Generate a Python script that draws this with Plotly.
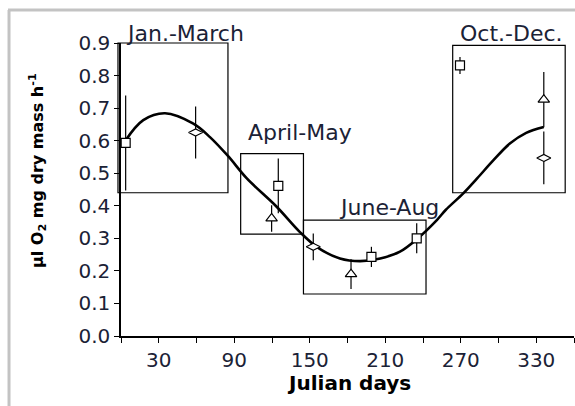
import plotly.graph_objects as go

# ---- data ----
curve_days = [3.5, 17.7, 35, 57.5, 70.7, 85, 100, 123.7, 142, 155.5, 174, 190, 206,
              221.7, 235, 251, 258, 272, 283, 296, 309, 322, 336]
curve_vals = [0.600, 0.663, 0.684, 0.652, 0.611, 0.553, 0.484, 0.397, 0.320, 0.274,
              0.238, 0.230, 0.238, 0.259, 0.297, 0.356, 0.387, 0.438, 0.484, 0.540,
              0.591, 0.624, 0.642]

sq_x = [3.7, 125, 199, 235, 269.4]
sq_y = [0.593, 0.461, 0.243, 0.300, 0.831]
sq_err = [0.146, 0.084, 0.031, 0.046, 0.026]

tri_x = [119.7, 182.8, 336]
tri_y = [0.361, 0.190, 0.726]
tri_err = [0.041, 0.046, 0.085]

dia_x = [59.3, 152.8, 336]
dia_y = [0.625, 0.274, 0.547]
dia_err = [0.080, 0.041, 0.081]

season_names = ["Jan.-March", "April-May", "June-Aug", "Oct.-Dec."]
season_x0 = [-2.4, 95.1, 145, 263.6]
season_x1 = [85, 145, 242.4, 353]
season_y0 = [0.44, 0.313, 0.129, 0.44]
season_y1 = [0.90, 0.560, 0.356, 0.893]
label_x = [50.9, 142, 212.6, 310]
label_y = [0.929, 0.626, 0.396, 0.929]

X_RANGE = [0, 360]
Y_RANGE = [0, 0.9]

x_tickvals = [30, 90, 150, 210, 270, 330]
x_ticktext = [str(v) for v in x_tickvals]
y_tickvals = [i / 10 for i in range(10)]
y_ticktext = [f"{v:.1f}" for v in y_tickvals]

TXT = "#1b2236"
FONT = "DejaVu Sans"


def px(v):  # data x -> paper fraction
    return (v - X_RANGE[0]) / (X_RANGE[1] - X_RANGE[0])


def py(v):  # data y -> paper fraction
    return (v - Y_RANGE[0]) / (Y_RANGE[1] - Y_RANGE[0])


fig = go.Figure()

# fitted curve
fig.add_trace(go.Scatter(x=curve_days, y=curve_vals, mode="lines",
                         line=dict(color="black", width=2.6, shape="spline", smoothing=1.0),
                         hoverinfo="skip", showlegend=False))


def pts(x, y, err, symbol, size):
    return go.Scatter(x=x, y=y, mode="markers",
                      marker=dict(symbol=symbol, size=size, color="white",
                                  line=dict(color="black", width=1.2)),
                      error_y=dict(type="data", array=err, visible=True,
                                   color="black", thickness=1.2, width=0),
                      showlegend=False)


fig.add_trace(pts(sq_x, sq_y, sq_err, "square", 9))
fig.add_trace(pts(tri_x, tri_y, tri_err, "triangle-up", 10))
fig.add_trace(pts(dia_x, dia_y, dia_err, "diamond-wide", 10))

shapes = []
for x0, x1, y0, y1 in zip(season_x0, season_x1, season_y0, season_y1):
    shapes.append(dict(type="rect", xref="paper", yref="paper",
                       x0=px(x0), x1=px(x1), y0=py(y0), y1=py(y1),
                       line=dict(color="black", width=1.2), fillcolor="rgba(0,0,0,0)",
                       layer="below"))
# grey frame of the original image
shapes.append(dict(type="line", xref="paper", yref="paper", x0=-0.2494, x1=1.02,
                   y0=1.1126, y1=1.1126, line=dict(color="#c3c3c3", width=3)))
shapes.append(dict(type="line", xref="paper", yref="paper", x0=-0.2472, x1=-0.2472,
                   y0=-0.26, y1=1.1126, line=dict(color="#c3c3c3", width=3)))

annotations = []
for name, lx, ly in zip(season_names, label_x, label_y):
    annotations.append(dict(x=px(lx), y=py(ly), xref="paper", yref="paper", text=name,
                            showarrow=False, xanchor="center", yanchor="middle",
                            font=dict(family=FONT, size=22, color=TXT)))
annotations.append(dict(x=-0.1854, y=0.563, xref="paper", yref="paper",
                        text="<b>µl O<sub>2</sub> mg dry mass h<sup>-1</sup></b>",
                        textangle=-90, showarrow=False, xanchor="center", yanchor="middle",
                        font=dict(family=FONT, size=16, color="black")))
annotations.append(dict(x=0.503, y=-0.160, xref="paper", yref="paper",
                        text="<b>Julian days</b>", showarrow=False,
                        xanchor="center", yanchor="middle",
                        font=dict(family=FONT, size=20, color="black")))

fig.update_layout(
    width=575, height=406,
    margin=dict(l=121, r=1, t=43, b=70),
    paper_bgcolor="white", plot_bgcolor="white",
    shapes=shapes, annotations=annotations,
    xaxis=dict(range=X_RANGE, tickvals=x_tickvals, ticktext=x_ticktext,
               showgrid=False, zeroline=False, showline=True, linecolor="black",
               linewidth=1.5, ticks="outside", ticklen=5, tickcolor="black",
               minor=dict(ticks="outside", ticklen=5, tickcolor="black",
                          tick0=0, dtick=30, showgrid=False),
               tickfont=dict(family=FONT, size=20, color=TXT)),
    yaxis=dict(range=Y_RANGE, tickvals=y_tickvals, ticktext=y_ticktext,
               showgrid=False, zeroline=False, showline=True, linecolor="black",
               linewidth=1.5, ticks="outside", ticklen=5, tickcolor="black",
               tickfont=dict(family=FONT, size=20, color=TXT)),
)

fig.write_html("out.html")
